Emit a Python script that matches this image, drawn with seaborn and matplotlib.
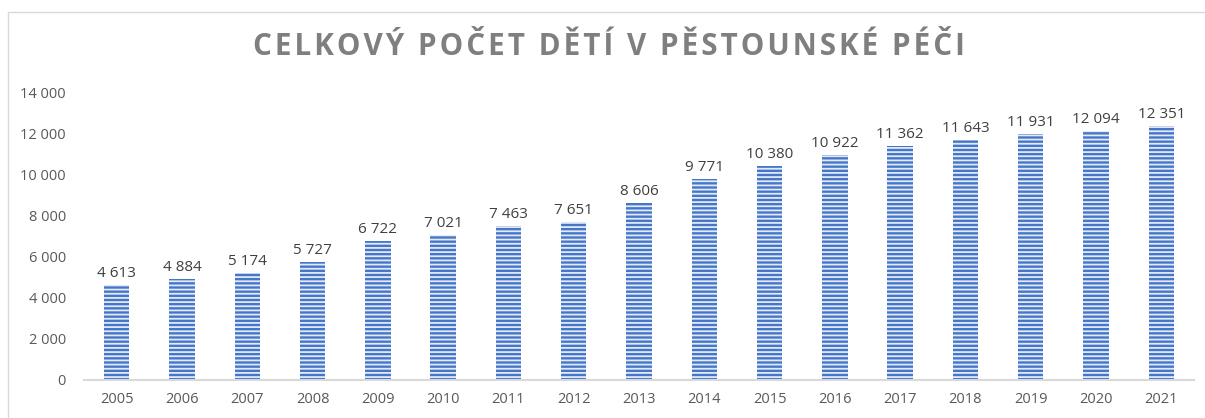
#%% Knihovny
import matplotlib
matplotlib.use('Agg')
import seaborn as sns
import matplotlib.pyplot as plt
from matplotlib.patches import Rectangle

#%% Data
roky = ['2005', '2006', '2007', '2008', '2009', '2010', '2011', '2012', '2013',
        '2014', '2015', '2016', '2017', '2018', '2019', '2020', '2021']
pocet_deti = [4613, 4884, 5174, 5727, 6722, 7021, 7463, 7651, 8606,
              9771, 10380, 10922, 11362, 11643, 11931, 12094, 12351]
titulek = 'CELKOVÝ POČET DĚTÍ V PĚSTOUNSKÉ PÉČI'
y_ticky = [0, 2000, 4000, 6000, 8000, 10000, 12000, 14000]

#%% Styl
sns.set_style('white')
plt.rcParams['font.family'] = ['Open Sans', 'DejaVu Sans']
plt.rcParams['hatch.linewidth'] = 1.3

def cz_format(v):
    return f'{v:,}'.replace(',', ' ')

#%% Graf
fig = plt.figure(figsize=(12.05, 4.18), dpi=100)
ax = fig.add_axes([84 / 1205, 38.5 / 418, 1110 / 1205, 287.5 / 418])

sns.barplot(x=roky, y=pocet_deti, ax=ax, color='#4676c8', width=0.39,
            saturation=1)
for bar in ax.patches:
    bar.set_hatch('----')
    bar.set_edgecolor('#e3eaf7')
    bar.set_linewidth(0)

for i, v in enumerate(pocet_deti):
    ax.annotate(cz_format(v), (i, v), xytext=(0, 3), textcoords='offset points',
                ha='center', va='bottom', fontsize=11, color='#404040')

ax.set_xlim(-0.5, 16.5)
ax.set_ylim(0, 14000)
ax.set_yticks(y_ticky)
ax.set_yticklabels([cz_format(t) for t in y_ticky])
ax.tick_params(axis='y', length=0, pad=13, labelsize=10.5, labelcolor='#595959')
ax.tick_params(axis='x', length=0, pad=9, labelsize=10.5, labelcolor='#595959')
ax.set_xlabel('')
ax.set_ylabel('')
for s in ['top', 'right', 'left']:
    ax.spines[s].set_visible(False)
ax.spines['bottom'].set_color('#d9d9d9')
ax.spines['bottom'].set_linewidth(1.5)

# ramecek grafu
fig.patches.append(Rectangle((8 / 1205, -0.05), 1.2, 1.05 - 12 / 418,
                             transform=fig.transFigure, fill=False,
                             edgecolor='#d9d9d9', linewidth=1))

fig.text(609 / 1205, 1 - 47 / 418, '\u200a'.join(titulek), ha='center', va='center',
         fontsize=21.3, fontweight='bold', color='#7f7f7f')

fig.savefig('out.png', dpi=100)
